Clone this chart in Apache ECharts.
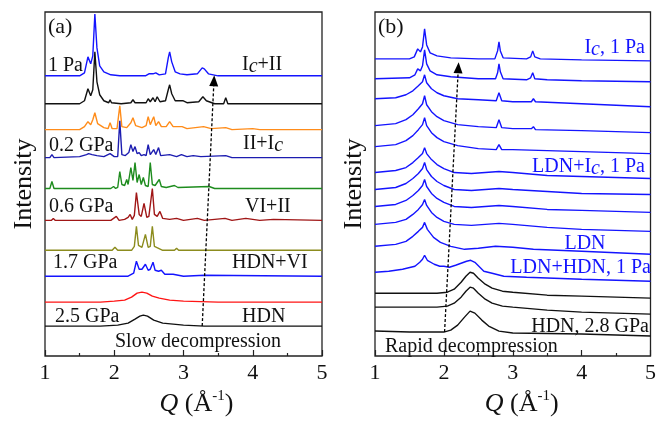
<!DOCTYPE html>
<html>
<head>
<meta charset="utf-8">
<script src="https://cdn.jsdelivr.net/npm/echarts@6/dist/echarts.min.js"></script>
<style>
  html, body { margin: 0; padding: 0; background: #fff; }
  #chart { width: 659px; height: 424px; }
</style>
</head>
<body>
<div id="chart"></div>
<script>
const FONT = "'Liberation Serif', 'DejaVu Serif', serif";

// x ticks (Q, 1/Å)
const qTicks = [1, 2, 3, 4, 5];

// panel (a): slow decompression, [Q, intensity above own baseline]
const aBaseline = [281, 253, 227, 199, 168, 136, 106, 80, 54, 30];
const aColors = ['#1414ff', '#111111', '#ff8c1a', '#1c1cb0', '#1e8c1e', '#a01616', '#8c8c1e', '#1414ff', '#ff1414', '#111111'];
const a1 = [[1,0],[1.5,0],[1.57,3],[1.62,19],[1.66,12],[1.69,20],[1.72,62],[1.75,28],[1.79,10],[1.85,4],[1.95,1],[2.08,0],[2.1,2],[2.12,0],[2.27,0],[2.29,2],[2.31,0],[2.45,0],[2.5,2],[2.56,2],[2.6,3],[2.65,1],[2.74,2],[2.78,18],[2.8,24],[2.83,14],[2.88,4],[2.95,2],[3.05,1],[3.2,2],[3.27,8],[3.3,7],[3.36,2],[3.5,0],[4,0],[5,0]];
const a2 = [[1,0],[1.5,0],[1.57,3],[1.62,15],[1.66,8],[1.69,14],[1.72,52],[1.75,22],[1.79,9],[1.85,3],[1.92,1],[1.94,4],[1.96,1],[2.1,0],[2.12,1],[2.24,1],[2.27,4],[2.3,1],[2.46,1],[2.49,5],[2.52,2],[2.56,6],[2.59,2],[2.62,7],[2.66,2],[2.74,3],[2.78,14],[2.8,19],[2.83,10],[2.88,3],[2.99,3],[3.05,1],[3.22,2],[3.28,7],[3.33,3],[3.45,0],[3.58,0],[3.61,6],[3.64,0],[4,0],[5,0]];
const a3 = [[1,0],[1.5,0],[1.57,3],[1.62,8],[1.66,5],[1.69,10],[1.72,17],[1.76,6],[1.85,2],[1.91,1],[1.94,7],[1.97,1],[2.04,1],[2.08,24],[2.11,3],[2.18,2],[2.24,7],[2.27,12],[2.31,4],[2.4,2],[2.46,4],[2.49,13],[2.52,5],[2.57,13],[2.6,4],[2.64,8],[2.68,3],[2.75,3],[2.8,8],[2.85,3],[2.98,3],[3.05,1],[3.29,3],[3.4,1],[3.61,2],[3.7,0],[4,1],[4.1,0],[5,0]];
const a4 = [[1,0],[1.07,0],[1.1,3],[1.13,0],[1.5,1],[1.6,3],[1.63,4],[1.68,3],[1.75,2],[1.85,1],[1.94,4],[2.0,1],[2.05,1],[2.08,37],[2.11,3],[2.16,2],[2.21,5],[2.24,13],[2.27,6],[2.3,11],[2.33,4],[2.36,5],[2.39,2],[2.43,3],[2.46,2],[2.49,13],[2.52,3],[2.57,8],[2.6,3],[2.64,10],[2.67,2],[2.8,3],[2.9,1],[2.97,3],[3.05,1],[3.14,2],[3.25,1],[3.61,2],[3.7,0],[5,0]];
const a5 = [[1,0],[1.07,0],[1.1,7],[1.13,0],[1.5,0],[1.95,0],[1.99,2],[2.02,0],[2.05,1],[2.08,17],[2.11,4],[2.15,3],[2.18,9],[2.2,4],[2.24,21],[2.27,8],[2.3,26],[2.33,6],[2.36,14],[2.39,4],[2.42,11],[2.45,3],[2.49,2],[2.52,26],[2.55,4],[2.59,3],[2.65,9],[2.68,2],[2.75,1],[2.87,3],[2.92,1],[3.37,2],[3.45,0],[5,0]];
const a6 = [[1,0],[1.09,0],[1.12,2],[1.15,0],[1.5,0],[1.95,0],[2.03,4],[2.07,0],[2.15,1],[2.2,3],[2.23,6],[2.26,1],[2.29,5],[2.32,28],[2.36,6],[2.39,4],[2.43,17],[2.47,3],[2.5,4],[2.55,32],[2.58,6],[2.62,4],[2.66,9],[2.7,2],[2.8,1],[2.9,2],[3.0,0],[3.2,2],[3.3,0],[3.6,2],[3.7,0],[3.9,2],[4.1,0],[4.3,1],[5,0]];
const a7 = [[1,0],[1.5,0],[1.97,0],[2.01,3],[2.05,0],[2.25,0],[2.29,4],[2.32,24],[2.35,5],[2.4,3],[2.45,16],[2.49,3],[2.52,4],[2.55,24],[2.58,4],[2.64,2],[2.7,0],[2.87,0],[2.9,2],[2.93,0],[5,0]];
const a8 = [[1,0],[1.5,0],[2.2,0],[2.28,3],[2.32,15],[2.36,7],[2.4,7],[2.45,12],[2.49,6],[2.52,7],[2.56,14],[2.59,6],[2.64,5],[2.68,6],[2.73,2],[2.85,2],[3.0,0],[3.3,1],[5,0]];
const a9 = [[1,0],[1.8,0],[2.0,1],[2.15,2],[2.25,5],[2.33,9],[2.4,10],[2.47,9],[2.55,6],[2.65,4],[2.8,2],[3.0,1],[3.5,0],[5,0]];
const a10 = [[1,0],[1.8,0],[2.05,1],[2.2,3],[2.3,7],[2.37,10],[2.42,11],[2.48,10],[2.57,6],[2.7,3],[2.85,2],[3.0,1],[3.3,0],[5,0]];
const aTraces = [a1, a2, a3, a4, a5, a6, a7, a8, a9, a10];

// panel (b): rapid decompression
const bBaseline = [298, 278, 258, 231, 210, 184, 167, 150, 132, 110, 84, 63, 49, 25];
const bColors = ['#1414ff', '#1414ff', '#1414ff', '#1414ff', '#1414ff', '#1414ff', '#1414ff', '#1414ff', '#1414ff', '#1414ff', '#1414ff', '#111111', '#111111', '#111111'];
const b1 = [[1,0],[1.5,0],[1.57,2],[1.62,10],[1.66,7],[1.69,12],[1.72,30],[1.75,14],[1.8,6],[1.9,3],[2.1,1],[2.5,0],[2.74,0],[2.78,8],[2.8,17],[2.82,8],[2.86,1],[3.2,0],[3.26,2],[3.29,8],[3.32,2],[3.4,0],[4,-1],[5,-2]];
const b2 = [[1,0],[1.5,1],[1.58,4],[1.62,10],[1.66,8],[1.69,13],[1.72,29],[1.75,15],[1.8,8],[1.9,4],[2.1,2],[2.5,0],[2.75,0],[2.78,6],[2.8,15],[2.82,7],[2.86,0],[3.2,-1],[3.26,1],[3.29,6],[3.32,0],[3.5,-1],[4,-2],[5,-3]];
const b3 = [[1,0],[1.3,1],[1.45,4],[1.55,8],[1.63,13],[1.69,17],[1.72,24],[1.75,16],[1.82,10],[1.9,6],[2.0,3],[2.2,0],[2.5,-1],[2.76,-2],[2.8,6],[2.84,-2],[3.0,-3],[3.27,-3],[3.3,0],[3.33,-3],[4,-5],[5,-8]];
const b4 = [[1,0],[1.3,2],[1.45,6],[1.55,11],[1.63,17],[1.69,22],[1.72,30],[1.75,21],[1.82,14],[1.9,9],[2.0,5],[2.2,1],[2.5,-1],[2.76,-2],[2.8,6],[2.84,-2],[3.0,-3],[3.27,-3],[3.3,-1],[3.33,-4],[4,-5],[5,-7]];
const b5 = [[1,0],[1.3,2],[1.45,6],[1.55,11],[1.63,17],[1.69,22],[1.72,29],[1.75,21],[1.82,14],[1.9,9],[2.0,5],[2.2,1],[2.5,-2],[2.76,-3],[2.8,2],[2.84,-3],[3.0,-3],[3.5,-4],[4,-5],[5,-7]];
const b6 = [[1,0],[1.3,2],[1.45,5],[1.55,10],[1.63,15],[1.69,19],[1.72,25],[1.75,19],[1.82,13],[1.9,8],[2.0,4],[2.15,0],[2.4,-1],[2.6,0],[2.8,1],[3.0,0],[3.5,-3],[4,-4],[5,-6]];
const b7 = [[1,0],[1.3,2],[1.45,6],[1.55,11],[1.63,16],[1.69,21],[1.72,27],[1.75,20],[1.82,13],[1.9,8],[2.0,4],[2.15,0],[2.4,-1],[2.6,0],[2.8,1],[3.0,0],[3.5,-2],[4,-4],[5,-5]];
const b8 = [[1,0],[1.3,2],[1.45,6],[1.55,11],[1.63,16],[1.69,21],[1.72,27],[1.75,20],[1.82,13],[1.9,8],[2.0,4],[2.15,0],[2.4,-1],[2.6,0],[2.8,1],[3.0,0],[3.5,-3],[4,-4],[5,-6]];
const b9 = [[1,0],[1.3,2],[1.45,5],[1.55,10],[1.63,15],[1.69,20],[1.72,25],[1.75,19],[1.82,12],[1.9,7],[2.0,3],[2.15,0],[2.4,-1],[2.6,0],[2.8,1],[3.0,0],[3.5,-3],[4,-5],[5,-7]];
const b10 = [[1,0],[1.3,2],[1.45,5],[1.55,10],[1.63,15],[1.69,19],[1.72,24],[1.76,17],[1.85,9],[1.95,4],[2.1,0],[2.3,-3],[2.5,-2],[2.75,0],[3.0,-1],[3.3,-3],[4,-5],[5,-8]];
const b11 = [[1,0],[1.2,1],[1.4,3],[1.58,6],[1.65,10],[1.69,13],[1.72,17],[1.76,12],[1.86,8],[1.94,6],[2.0,6],[2.08,5],[2.17,7],[2.25,9],[2.33,11],[2.39,12],[2.45,10],[2.58,1],[2.7,-1],[2.87,-4],[3.2,-5],[4,-7],[5,-9]];
const b12 = [[1,0],[1.5,0],[1.9,0],[2.05,1],[2.15,4],[2.25,11],[2.32,17],[2.38,21],[2.43,20],[2.5,15],[2.6,9],[2.7,5],[2.85,2],[3.0,1],[3.5,-2],[4,-3],[5,-5]];
const b13 = [[1,0],[1.5,0],[1.9,0],[2.05,1],[2.15,4],[2.25,10],[2.32,16],[2.38,20],[2.43,19],[2.5,14],[2.6,8],[2.7,4],[2.85,1],[3.0,0],[3.5,-3],[4,-5],[5,-7]];
const b14 = [[1,0],[1.5,-1],[2.0,-1],[2.1,1],[2.2,6],[2.3,14],[2.38,20],[2.45,18],[2.55,11],[2.65,5],[2.8,0],[3.0,-2],[4,-3],[5,-5]];
const bTraces = [b1, b2, b3, b4, b5, b6, b7, b8, b9, b10, b11, b12, b13, b14];

// dashed arrows [start, end]
const aArrow = [[3.27, 30], [3.44, 276]];
const bArrow = [[2.01, 24], [2.21, 289]];

const tickStyle = { color: '#222', width: 1.2 };

function makeX(gridIndex, namePad) {
  return {
    type: 'value', gridIndex: gridIndex, min: 1, max: 5, interval: 1,
    axisLine: { show: false },
    axisTick: { show: true, inside: true, length: 6, lineStyle: tickStyle },
    minorTick: { show: true, splitNumber: 2, length: 3, lineStyle: tickStyle },
    splitLine: { show: false },
    axisLabel: {
      fontSize: 22, fontFamily: FONT, color: '#111', margin: 6,
      formatter: (v) => qTicks.includes(v) ? String(v) : ''
    },
    name: '{q|Q} (Å{s|-1})',
    nameLocation: 'middle', nameGap: 33,
    nameTextStyle: {
      fontSize: 26, fontFamily: FONT, color: '#111', lineHeight: 30,
      padding: [0, 0, 0, namePad],
      rich: {
        q: { fontSize: 26, fontFamily: FONT, fontStyle: 'italic', color: '#111', lineHeight: 30 },
        s: { fontSize: 15, fontFamily: FONT, color: '#111', lineHeight: 12, verticalAlign: 'top' }
      }
    }
  };
}

function makeY(gridIndex) {
  return {
    type: 'value', gridIndex: gridIndex, min: 0, max: 345,
    axisLine: { show: false }, axisTick: { show: false },
    axisLabel: { show: false }, splitLine: { show: false },
    name: 'Intensity', nameLocation: 'middle', nameGap: 8,
    nameTextStyle: { fontSize: 26, fontFamily: FONT, color: '#111' }
  };
}

function traceSeries(traces, offsets, colors, idx) {
  return traces.map((t, i) => ({
    type: 'line', xAxisIndex: idx, yAxisIndex: idx,
    showSymbol: false, symbol: 'none', silent: true,
    lineStyle: { color: colors[i], width: 1.4 },
    data: t.map((p) => [p[0], offsets[i] + p[1]])
  }));
}

function arrowSeries(arrow, idx) {
  return {
    type: 'line', xAxisIndex: idx, yAxisIndex: idx,
    symbol: 'none', silent: true,
    lineStyle: { opacity: 0 },
    data: arrow,
    markLine: {
      silent: true, animation: false,
      symbol: ['none', 'triangle'], symbolSize: [9, 11],
      label: { show: false },
      lineStyle: { type: [3, 2], color: '#000', width: 1.3 },
      data: [[{ coord: arrow[0] }, { coord: arrow[1] }]]
    }
  };
}

// italic c of "Ic" sits a little low, like a subscript
function label(text, x, y, color, align, size) {
  const fs = size || 20;
  return {
    type: 'text', x: x, y: y, silent: true,
    style: {
      text: text, fill: color, font: fs + 'px ' + FONT, lineHeight: 24,
      textAlign: align || 'left', textVerticalAlign: 'middle',
      rich: { i: { fontStyle: 'italic', fontSize: fs, fontFamily: FONT, fill: color, lineHeight: 18, verticalAlign: 'bottom' } }
    }
  };
}

const BLUE = '#1414ff';
const BLACK = '#111';

const option = {
  animation: false,
  backgroundColor: '#fff',
  grid: [
    { left: 45, top: 12, width: 277, height: 345, show: true, borderColor: '#222', borderWidth: 1.3 },
    { left: 375, top: 12, width: 278, height: 345, show: true, borderColor: '#222', borderWidth: 1.3 }
  ],
  xAxis: [makeX(0, 26), makeX(1, 18)],
  yAxis: [makeY(0), makeY(1)],
  series: [
    ...traceSeries(aTraces, aBaseline, aColors, 0),
    ...traceSeries(bTraces, bBaseline, bColors, 1),
    arrowSeries(aArrow, 0),
    arrowSeries(bArrow, 1)
  ],
  graphic: [
    label('(a)', 48, 27, BLACK, 'left', 22),
    label('1 Pa', 48, 66, BLACK),
    label('I{i|c}+II', 242, 65, BLACK),
    label('0.2 GPa', 49, 146, BLACK),
    label('II+I{i|c}', 243, 144, BLACK),
    label('0.6 GPa', 49, 207, BLACK),
    label('VI+II', 245, 207, BLACK),
    label('1.7 GPa', 53, 263, BLACK),
    label('HDN+VI', 232, 263, BLACK),
    label('2.5 GPa', 55, 317, BLACK),
    label('HDN', 242, 317, BLACK),
    label('Slow decompression', 115, 342, BLACK),
    label('(b)', 378, 27, BLACK, 'left', 22),
    label('I{i|c}, 1 Pa', 645, 48, BLUE, 'right'),
    label('LDN+I{i|c}, 1 Pa', 645, 167, BLUE, 'right'),
    label('LDN', 585, 244, BLUE, 'center'),
    label('LDN+HDN, 1 Pa', 651, 268, BLUE, 'right'),
    label('HDN, 2.8 GPa', 649, 327, BLACK, 'right'),
    label('Rapid decompression', 385, 347, BLACK)
  ]
};

const chart = echarts.init(document.getElementById('chart'), null, { renderer: 'canvas' });
chart.setOption(option);
</script>
</body>
</html>
